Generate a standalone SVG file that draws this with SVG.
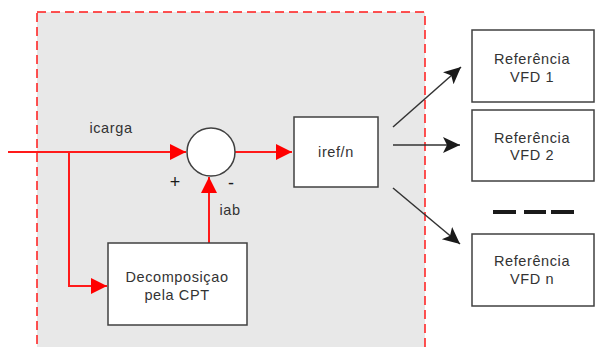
<svg xmlns="http://www.w3.org/2000/svg" width="595" height="347" viewBox="0 0 595 347">
  <style>
    .box { fill: #ffffff; stroke: #404040; stroke-width: 1.5; }
    .lbl { font-family: "Liberation Sans", Arial, sans-serif; font-size: 14.5px; letter-spacing: 0.6px; fill: #333333; text-anchor: middle; }
    .sign { font-family: "Liberation Sans", Arial, sans-serif; font-size: 18px; fill: #1a1a1a; text-anchor: middle; }
    .red { stroke: #ff1a1a; stroke-width: 2; fill: none; }
    .blk { stroke: #333333; stroke-width: 1.5; fill: none; }
  </style>
  <defs>
    <marker id="redHead" markerUnits="userSpaceOnUse" markerWidth="18" markerHeight="18" refX="16" refY="8" orient="auto">
      <path d="M0,0 L16,8 L0,16 Z" fill="#ff0000"/>
    </marker>
    <marker id="blkHead" markerUnits="userSpaceOnUse" markerWidth="20" markerHeight="20" refX="17" refY="8" orient="auto">
      <path d="M0,0 L17,8 L0,16 L4,8 Z" fill="#1a1a1a"/>
    </marker>
  </defs>

  <!-- control block region -->
  <rect x="37" y="12" width="388" height="345" fill="#e8e8e8" stroke="#ff1a1a" stroke-width="1.5" stroke-dasharray="9,5"/>

  <g id="connectors">
    <line class="red" x1="8" y1="152" x2="186" y2="152" marker-end="url(#redHead)"/>
    <polyline class="red" points="69,152 69,286 107,286" marker-end="url(#redHead)"/>
    <line class="red" x1="209" y1="243" x2="209" y2="177" marker-end="url(#redHead)"/>
    <line class="red" x1="235" y1="152" x2="292" y2="152" marker-end="url(#redHead)"/>
    <line class="blk" x1="393" y1="127" x2="461" y2="67" marker-end="url(#blkHead)"/>
    <line class="blk" x1="393" y1="145" x2="460" y2="145" marker-end="url(#blkHead)"/>
    <line class="blk" x1="393" y1="188" x2="460" y2="244" marker-end="url(#blkHead)"/>
  </g>

  <g id="labels">
    <text class="lbl" x="111" y="133">icarga</text>
    <text class="sign" x="175" y="188">+</text>
    <text class="sign" x="231" y="189">-</text>
    <text class="lbl" x="230" y="215">iab</text>
  </g>

  <g id="sum">
    <circle cx="211" cy="152" r="24" fill="#ffffff" stroke="#404040" stroke-width="1.5"/>
  </g>

  <g id="iref">
    <rect class="box" x="294" y="117" width="84" height="70"/>
    <text class="lbl" x="336" y="157">iref/n</text>
  </g>

  <g id="decomp">
    <rect class="box" x="108" y="243" width="139" height="82"/>
    <text class="lbl" x="177" y="282">Decomposiçao</text>
    <text class="lbl" x="177" y="300">pela CPT</text>
  </g>

  <g id="ref1">
    <rect class="box" x="472" y="30" width="122" height="72"/>
    <text class="lbl" x="532" y="64">Referência</text>
    <text class="lbl" x="532" y="82">VFD 1</text>
  </g>

  <g id="ref2">
    <rect class="box" x="472" y="110" width="122" height="71"/>
    <text class="lbl" x="532" y="143">Referência</text>
    <text class="lbl" x="532" y="160">VFD 2</text>
  </g>

  <g id="ellipsis">
    <line x1="493" y1="212" x2="516" y2="212" stroke="#1a1a1a" stroke-width="4"/>
    <line x1="524" y1="212" x2="546" y2="212" stroke="#1a1a1a" stroke-width="4"/>
    <line x1="551" y1="212" x2="574" y2="212" stroke="#1a1a1a" stroke-width="4"/>
  </g>

  <g id="refn">
    <rect class="box" x="472" y="234" width="122" height="72"/>
    <text class="lbl" x="532" y="266">Referência</text>
    <text class="lbl" x="532" y="284">VFD n</text>
  </g>
</svg>
